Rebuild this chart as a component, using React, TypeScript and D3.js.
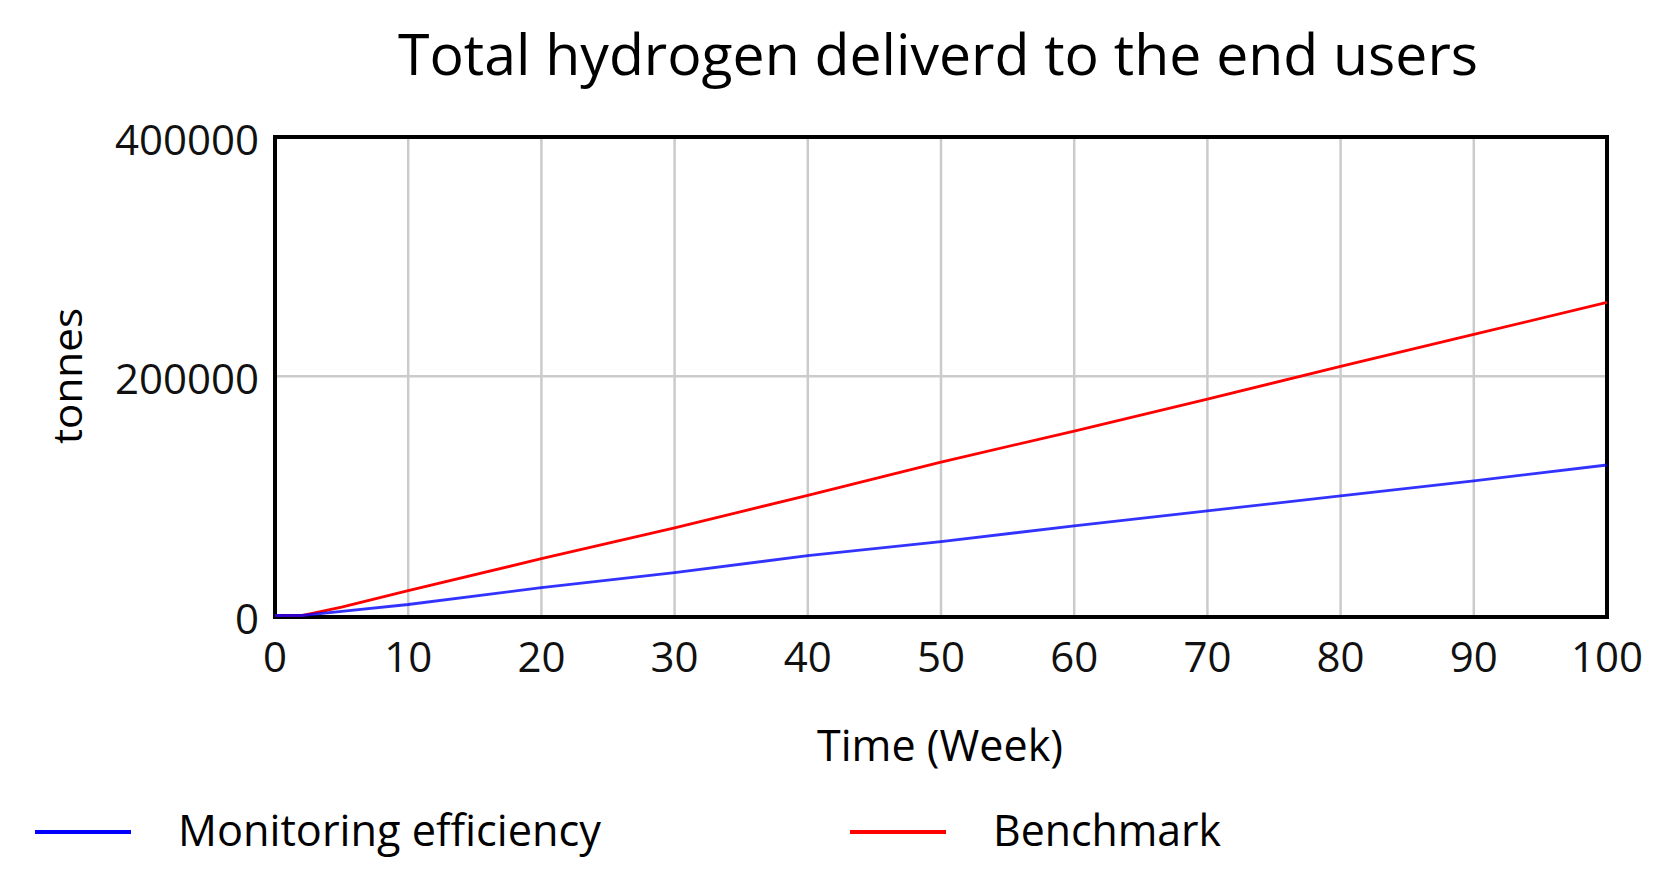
import { useEffect, useRef } from 'react';
import * as d3 from 'd3';

const weeks = [0, 2, 5, 10, 20, 30, 40, 50, 60, 70, 80, 90, 100];
const benchmark = [0, 0, 7000, 20800, 47500, 73300, 100400, 128300, 154200, 180800, 208300, 235000, 261700];
const monitoring = [0, 0, 3500, 9200, 23300, 35800, 50000, 61700, 75000, 87500, 100000, 112500, 125800];

const xTicks = [0, 10, 20, 30, 40, 50, 60, 70, 80, 90, 100];
const yTicks = [0, 200000, 400000];

const seriesNames = ['Monitoring efficiency', 'Benchmark'];
const seriesColors = ['#0000ff', '#ff0000'];

const FONT = '"Open Sans", "Noto Sans", sans-serif';

export default function App() {
  const svgRef = useRef<SVGSVGElement>(null);

  useEffect(() => {
    if (!svgRef.current) return;
    document.body.style.margin = '0';

    const width = 1675;
    const height = 881;
    const left = 275, right = 1607, top = 137, bottom = 617;

    const svg = d3.select(svgRef.current)
      .attr('width', width)
      .attr('height', height)
      .attr('viewBox', `0 0 ${width} ${height}`);
    svg.selectAll('*').remove();

    svg.append('rect').attr('width', width).attr('height', height).attr('fill', '#fff');

    const x = d3.scaleLinear().domain([0, 100]).range([left, right]);
    const y = d3.scaleLinear().domain([0, 400000]).range([bottom - 1.5, top]);

    // grid
    const grid = svg.append('g');
    grid.selectAll('line.vx')
      .data(xTicks.slice(1, -1))
      .enter()
      .append('line')
      .attr('x1', d => x(d)).attr('x2', d => x(d))
      .attr('y1', top).attr('y2', bottom)
      .style('stroke', '#cbcbcb')
      .style('stroke-width', '2.5px');
    grid.selectAll('line.hy')
      .data(yTicks.slice(1, -1))
      .enter()
      .append('line')
      .attr('x1', left).attr('x2', right)
      .attr('y1', d => y(d)).attr('y2', d => y(d))
      .style('stroke', '#cbcbcb')
      .style('stroke-width', '2.5px');

    // frame
    svg.append('rect')
      .attr('x', left).attr('y', top)
      .attr('width', right - left).attr('height', bottom - top)
      .style('fill', 'none')
      .style('stroke', '#000')
      .style('stroke-width', '4px');

    // series (on top of the frame, as in the original)
    const allSeries = [monitoring, benchmark];
    const lineGen = d3.line<number>()
      .x((_, i) => x(weeks[i]))
      .y(d => y(d));
    [1, 0].forEach(k => {
      svg.append('path')
        .attr('d', lineGen(allSeries[k]) as string)
        .style('fill', 'none')
        .style('stroke', seriesColors[k])
        .style('stroke-width', '2.8px')
        .style('stroke-opacity', k === 0 ? 0.8 : 1);
    });

    // tick labels
    svg.append('g')
      .selectAll('text')
      .data(xTicks)
      .enter()
      .append('text')
      .attr('x', d => x(d))
      .attr('y', 672)
      .attr('text-anchor', 'middle')
      .style('font-family', FONT)
      .style('font-size', '42px')
      .style('fill', '#111')
      .text(d => d);

    svg.append('g')
      .selectAll('text')
      .data(yTicks)
      .enter()
      .append('text')
      .attr('x', 259)
      .attr('y', d => y(d) + 18)
      .attr('text-anchor', 'end')
      .style('font-family', FONT)
      .style('font-size', '42px')
      .style('fill', '#111')
      .text(d => d);

    // title
    svg.append('text')
      .attr('x', 938)
      .attr('y', 75)
      .attr('text-anchor', 'middle')
      .attr('textLength', 1080)
      .attr('lengthAdjust', 'spacingAndGlyphs')
      .style('font-family', FONT)
      .style('font-size', '56px')
      .style('fill', '#000')
      .text('Total hydrogen deliverd to the end users');

    // axis titles
    svg.append('text')
      .attr('x', 940)
      .attr('y', 761)
      .attr('text-anchor', 'middle')
      .attr('textLength', 246)
      .attr('lengthAdjust', 'spacingAndGlyphs')
      .style('font-family', FONT)
      .style('font-size', '44px')
      .style('fill', '#000')
      .text('Time (Week)');

    svg.append('text')
      .attr('transform', `translate(82, 376) rotate(-90)`)
      .attr('text-anchor', 'middle')
      .attr('textLength', 136)
      .attr('lengthAdjust', 'spacingAndGlyphs')
      .style('font-family', FONT)
      .style('font-size', '40px')
      .style('fill', '#000')
      .text('tonnes');

    // legend
    const legendX = [35, 850];
    const legendTextX = [178, 993];
    const legendTextW = [423, 228];
    seriesNames.forEach((name, i) => {
      svg.append('line')
        .attr('x1', legendX[i]).attr('x2', legendX[i] + 96)
        .attr('y1', 832).attr('y2', 832)
        .style('stroke', seriesColors[i])
        .style('stroke-width', '4px');
      svg.append('text')
        .attr('x', legendTextX[i])
        .attr('y', 846)
        .attr('textLength', legendTextW[i])
        .attr('lengthAdjust', 'spacingAndGlyphs')
        .style('font-family', FONT)
        .style('font-size', '44px')
        .style('fill', '#000')
        .text(name);
    });
  }, []);

  return <svg ref={svgRef} style={{ display: 'block' }} />;
}
